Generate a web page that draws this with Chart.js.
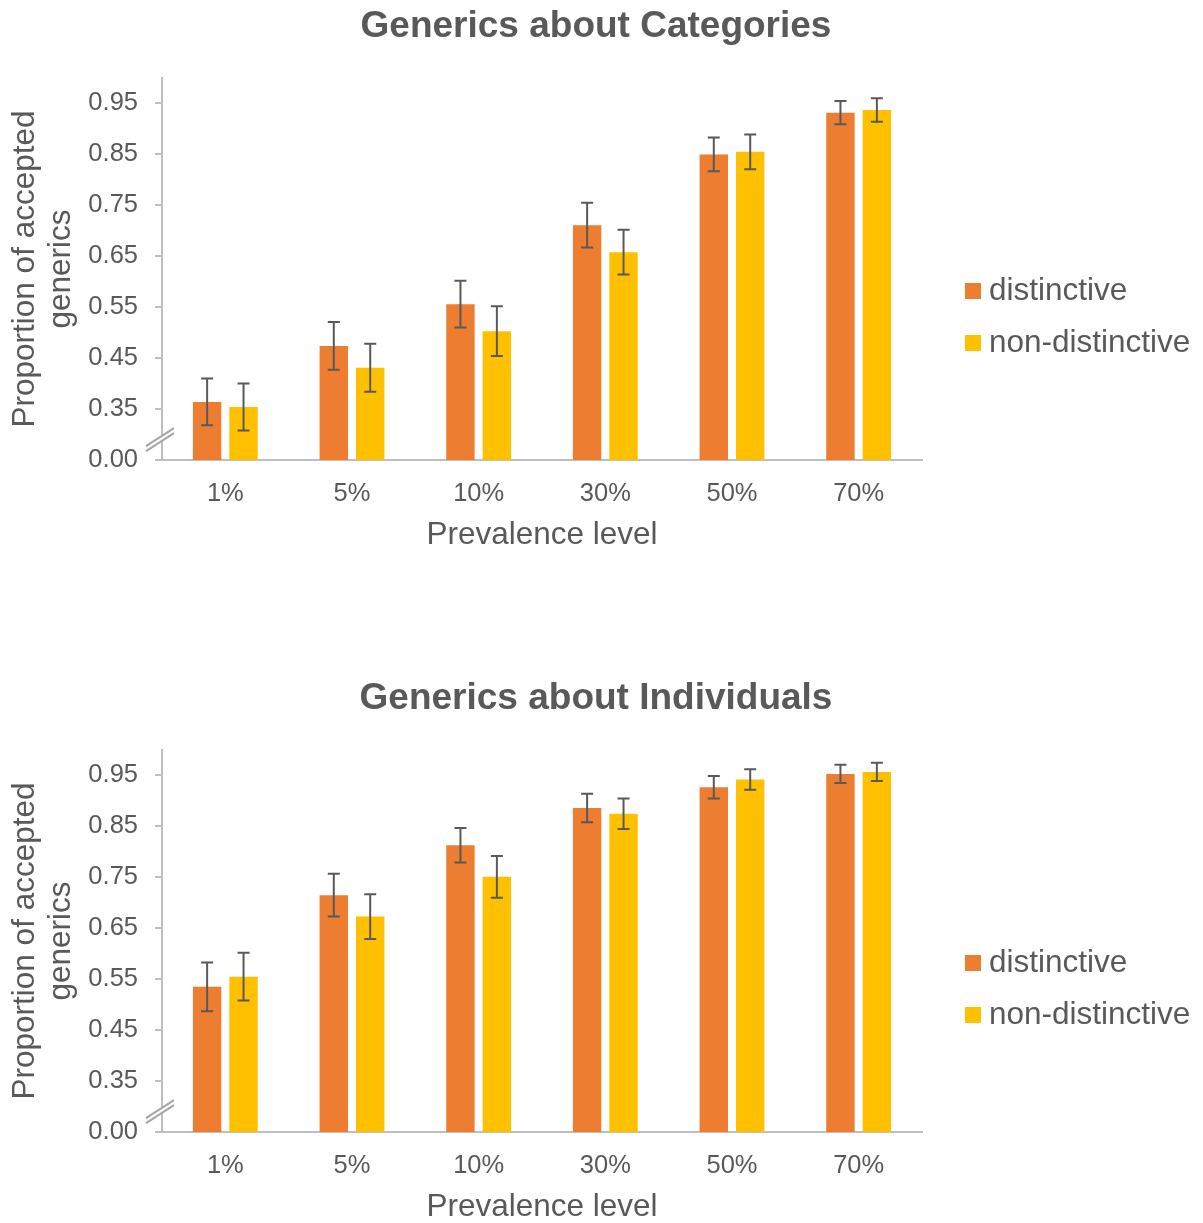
<!DOCTYPE html>
<html>
<head>
<meta charset="utf-8">
<script src="https://cdn.jsdelivr.net/npm/chart.js@4.4.0/dist/chart.umd.min.js"></script>
<style>
  html, body { margin: 0; padding: 0; background: #fff; overflow: hidden; }
  .box { position: absolute; left: 0; width: 1203px; height: 551px; }
</style>
</head>
<body>
<div class="box" style="top:0"><canvas id="catChart"></canvas></div>
<div class="box" style="top:672px"><canvas id="indChart"></canvas></div>
<script>
'use strict';
// data
let categories = ['1%', '5%', '10%', '30%', '50%', '70%'];
let seriesNames = ['distinctive', 'non-distinctive'];

let catDistinctive = [0.364, 0.474, 0.556, 0.711, 0.850, 0.932];
let catNonDistinctive = [0.354, 0.431, 0.503, 0.658, 0.855, 0.937];
let catDistinctiveErr = [0.046, 0.047, 0.046, 0.044, 0.033, 0.023];
let catNonDistinctiveErr = [0.046, 0.047, 0.049, 0.044, 0.034, 0.023];

let indDistinctive = [0.535, 0.715, 0.813, 0.886, 0.927, 0.953];
let indNonDistinctive = [0.555, 0.673, 0.751, 0.875, 0.942, 0.957];
let indDistinctiveErr = [0.048, 0.042, 0.034, 0.028, 0.022, 0.018];
let indNonDistinctiveErr = [0.047, 0.044, 0.041, 0.030, 0.020, 0.018];

// broken axis: the 0.00 label sits where 0.25 would be
let yTickValues = [0.25, 0.35, 0.45, 0.55, 0.65, 0.75, 0.85, 0.95];
let yTickLabels = ['0.00', '0.35', '0.45', '0.55', '0.65', '0.75', '0.85', '0.95'];
let breakValue = 0.29;

const textColor = '#595959';
const axisColor = '#BFBFBF';
Chart.defaults.font.family = '"Liberation Sans", Arial, sans-serif';

const errorBars = {
  id: 'errorBars',
  afterDatasetsDraw(chart) {
    const ctx = chart.ctx;
    const y = chart.scales.y;
    ctx.save();
    ctx.strokeStyle = textColor;
    ctx.lineWidth = 2;
    chart.data.datasets.forEach((ds, i) => {
      chart.getDatasetMeta(i).data.forEach((bar, j) => {
        const top = y.getPixelForValue(ds.data[j] + ds.errors[j]);
        const bot = y.getPixelForValue(ds.data[j] - ds.errors[j]);
        ctx.beginPath();
        ctx.moveTo(bar.x, top); ctx.lineTo(bar.x, bot);
        ctx.moveTo(bar.x - 6, top); ctx.lineTo(bar.x + 6, top);
        ctx.moveTo(bar.x - 6, bot); ctx.lineTo(bar.x + 6, bot);
        ctx.stroke();
      });
    });
    ctx.restore();
  }
};

const axisBreak = {
  id: 'axisBreak',
  afterDraw(chart) {
    const ctx = chart.ctx;
    const x0 = chart.chartArea.left - 2;
    const yb = chart.scales.y.getPixelForValue(breakValue);
    ctx.save();
    ctx.fillStyle = '#fff';
    ctx.beginPath();
    ctx.moveTo(x0 - 14, yb + 6.5);
    ctx.lineTo(x0 + 14, yb - 11.5);
    ctx.lineTo(x0 + 14, yb - 6.5);
    ctx.lineTo(x0 - 14, yb + 11.5);
    ctx.closePath();
    ctx.fill();
    ctx.strokeStyle = '#A6A6A6';
    ctx.lineWidth = 2;
    ctx.beginPath();
    ctx.moveTo(x0 - 14, yb + 6.5); ctx.lineTo(x0 + 14, yb - 11.5);
    ctx.moveTo(x0 - 14, yb + 11.5); ctx.lineTo(x0 + 14, yb - 6.5);
    ctx.stroke();
    ctx.restore();
  }
};

const sideLegend = {
  id: 'sideLegend',
  afterDraw(chart) {
    const ctx = chart.ctx;
    const ca = chart.chartArea;
    ctx.save();
    ctx.font = '31.5px "Liberation Sans", Arial, sans-serif';
    ctx.textBaseline = 'middle';
    chart.data.datasets.forEach((ds, i) => {
      const cy = ca.top + 213 + i * 52;
      ctx.fillStyle = ds.backgroundColor;
      ctx.fillRect(ca.right + 43, cy - 8, 16, 16);
      ctx.fillStyle = textColor;
      ctx.fillText(ds.label, ca.right + 67, cy);
    });
    ctx.restore();
  }
};

function makeChart(id, titleText, dist, nonDist, distErr, nonDistErr) {
  let ctx = document.getElementById(id).getContext('2d');
  return new Chart(ctx, {
    type: 'bar',
    data: {
      labels: categories,
      datasets: [
        {
          label: seriesNames[0],
          data: dist,
          errors: distErr,
          backgroundColor: '#ED7D31',
          xAxisID: 'x',
          yAxisID: 'y',
          barPercentage: 0.78,
          categoryPercentage: 0.575
        },
        {
          label: seriesNames[1],
          data: nonDist,
          errors: nonDistErr,
          backgroundColor: '#FFC000',
          xAxisID: 'x',
          yAxisID: 'y',
          barPercentage: 0.78,
          categoryPercentage: 0.575
        }
      ]
    },
    options: {
      responsive: true,
      maintainAspectRatio: false,
      animation: false,
      layout: { padding: { left: 0, right: 11, top: 0, bottom: 0 } },
      plugins: {
        legend: { display: false },
        tooltip: { enabled: false },
        title: {
          display: true,
          text: titleText,
          color: textColor,
          font: { size: 37, weight: 'bold', lineHeight: 1.2 },
          padding: { top: 5, bottom: 28.6 }
        }
      },
      scales: {
        x: {
          grid: { display: false, drawTicks: false },
          border: { display: true, color: axisColor, width: 2 },
          ticks: { color: textColor, font: { size: 25.5 }, padding: 18.2 },
          title: {
            display: true,
            text: 'Prevalence level',
            color: textColor,
            font: { size: 31.5, lineHeight: 1 },
            padding: { top: 12.2, bottom: 0 }
          },
          afterFit(scale) { scale.height = 91; }
        },
        y: {
          min: 0.25,
          max: 1.0,
          afterBuildTicks(axis) {
            axis.ticks = yTickValues.map(v => ({ value: v }));
          },
          ticks: {
            color: textColor,
            font: { size: 25.5 },
            padding: 17,
            callback: (v, i) => yTickLabels[i]
          },
          grid: { drawOnChartArea: false, drawTicks: true, tickLength: 7, color: axisColor, lineWidth: 2 },
          border: { color: axisColor, width: 2 },
          title: {
            display: true,
            text: ['Proportion of accepted', 'generics'],
            color: textColor,
            font: { size: 31.5, lineHeight: 1.13 },
            padding: { top: 8, bottom: 9 }
          },
          afterFit(scale) { scale.width = 162; }
        },
        // empty right axis only keeps room for the legend
        y2: {
          position: 'right',
          grid: { display: false, drawTicks: false },
          border: { display: false },
          ticks: { display: false },
          afterFit(scale) { scale.width = 270; }
        }
      }
    },
    plugins: [errorBars, axisBreak, sideLegend]
  });
}

makeChart('catChart', 'Generics about Categories', catDistinctive, catNonDistinctive, catDistinctiveErr, catNonDistinctiveErr);
makeChart('indChart', 'Generics about Individuals', indDistinctive, indNonDistinctive, indDistinctiveErr, indNonDistinctiveErr);
</script>
</body>
</html>
